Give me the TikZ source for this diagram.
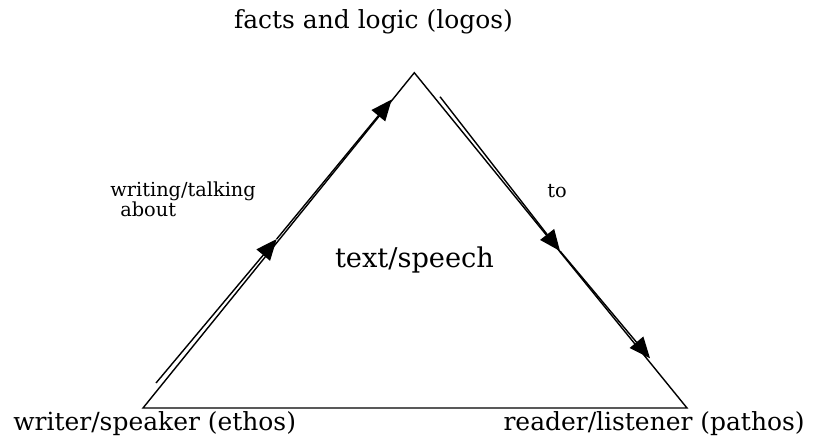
\documentclass[tikz,border=0pt]{standalone}
\usepackage{fontspec}
\setmainfont{DejaVu Serif}
\usetikzlibrary{arrows.meta,positioning}
\tikzset{
  side/.style={line width=0.8pt,line join=miter},
  flow/.style={line width=0.8pt,-{Triangle[length=0.42cm,width=0.35cm]}},
  bigtext/.style={inner sep=0pt,font=\fontsize{14.2}{17}\selectfont},
  smalltext/.style={inner sep=0pt,font=\fontsize{11}{13}\selectfont},
}
\begin{document}
\begin{tikzpicture}[x=0.02cm,y=-0.02cm]
  \useasboundingbox (0,0) rectangle (817,444);
  % corners of the triangle
  \coordinate (top) at (414.3,72.7);
  \coordinate (ethos) at (143,408);
  \coordinate (pathos) at (687,408);
  \draw[side] (ethos) -- (top) -- (pathos) -- cycle;
  % labels
  \node[bigtext,anchor=base] (logoslbl) at (373.5,28) {facts and logic (logos)};
  \node[bigtext,anchor=base west] (ethoslbl) at (13,430) {writer/speaker (ethos)};
  \node[bigtext,anchor=base east] (pathoslbl) at (805,430) {reader/listener (pathos)};
  \node[bigtext,font=\fontsize{15.5}{18}\selectfont,anchor=base] (speech) at (414.5,267) {text/speech};
  \node[smalltext,anchor=base west] (writing) at (110,196) {writing/talking};
  \node[smalltext,anchor=base west] (about) at (120,216) {about};
  \node[smalltext,anchor=base west] (to) at (547,197) {to};
  % arrows along the left side
  \coordinate (w0) at (156,383);
  \coordinate (w1) at (276.7,239);
  \coordinate (w2) at (391.7,99.5);
  \draw[flow] (w0) -- (w1);
  \draw[flow] (w1) -- (w2);
  % arrows along the right side
  \coordinate (r0) at (440,96.7);
  \coordinate (r1) at (560,251);
  \coordinate (r2) at (650,358.3);
  \draw[flow] (r0) -- (r1);
  \draw[flow] (r1) -- (r2);
\end{tikzpicture}
\end{document}
